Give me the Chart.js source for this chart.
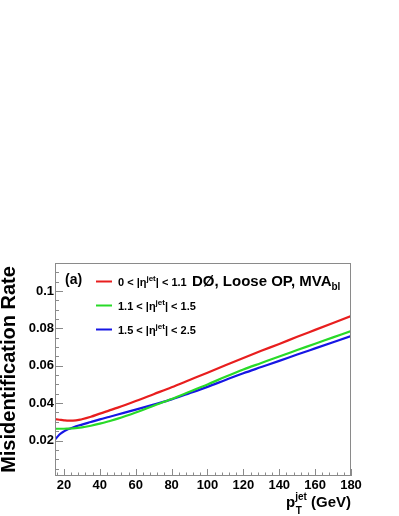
<!DOCTYPE html>
<html>
<head>
<meta charset="utf-8">
<script src="https://cdn.jsdelivr.net/npm/chart.js@4.4.1/dist/chart.umd.min.js"></script>
<style>
  html, body { margin: 0; padding: 0; background: #fff; }
  #wrap { width: 399px; height: 516px; }
</style>
</head>
<body>
<div id="wrap"><canvas id="misidChart" width="399" height="516"></canvas></div>
<script>
const ptValues = [15, 17.5, 20, 22.5, 25, 30, 35, 40, 45, 50, 60, 70, 80, 90, 100, 110, 120, 130, 140, 150, 160, 170, 180];

const rateCentral = [0.0314, 0.0311, 0.0308, 0.0306, 0.0306, 0.0314, 0.0327, 0.0344, 0.0360, 0.0376, 0.0411, 0.0448, 0.0485, 0.0524, 0.0563, 0.0603, 0.0642, 0.0680, 0.0717, 0.0755, 0.0792, 0.0829, 0.0866];
const rateIntermediate = [0.0263, 0.0263, 0.0263, 0.0264, 0.0265, 0.0270, 0.0279, 0.0290, 0.0303, 0.0317, 0.0350, 0.0386, 0.0422, 0.0461, 0.0500, 0.0541, 0.0580, 0.0615, 0.0650, 0.0684, 0.0718, 0.0752, 0.0786];
const rateForward = [0.0204, 0.0232, 0.0249, 0.0261, 0.0270, 0.0285, 0.0299, 0.0313, 0.0326, 0.0339, 0.0365, 0.0392, 0.0420, 0.0453, 0.0487, 0.0524, 0.0560, 0.0593, 0.0626, 0.0660, 0.0693, 0.0726, 0.0759];

const seriesLabels = ["0 < |η^jet| < 1.1", "1.1 < |η^jet| < 1.5", "1.5 < |η^jet| < 2.5"];
const seriesColors = ["rgb(232,30,30)", "rgb(40,218,40)", "rgb(22,22,228)"];

const xTickValues = [20, 40, 60, 80, 100, 120, 140, 160, 180];
const yTickValues = [0.02, 0.04, 0.06, 0.08, 0.1];
const yTickLabels = ["0.02", "0.04", "0.06", "0.08", "0.1"];

const FONT = "'Liberation Sans', Arial, Helvetica, sans-serif";

function toPoints(values) {
    return values.map((v, i) => ({ x: ptValues[i], y: v }));
}

// draw text pieces (normal / sub / superscript) one after another
function drawPieces(ctx, pieces, x, y) {
    let cx = x;
    pieces.forEach(p => {
        ctx.font = "bold " + p.size + "px " + FONT;
        ctx.fillText(p.t, cx, y + (p.dy || 0));
        cx += ctx.measureText(p.t).width;
    });
    return cx;
}

function piecesWidth(ctx, pieces) {
    let w = 0;
    pieces.forEach(p => {
        ctx.font = "bold " + p.size + "px " + FONT;
        w += ctx.measureText(p.t).width;
    });
    return w;
}

function labelPieces(label) {
    const m = label.split(/\^(\w+)/);
    return [
        { t: m[0], size: 11 },
        { t: m[1], size: 8, dy: -5 },
        { t: m[2], size: 11 }
    ];
}

const rootStyle = {
    id: "rootStyle",
    afterDraw(chart) {
        const ctx = chart.ctx;
        const area = chart.chartArea;
        const xs = chart.scales.x;
        const ys = chart.scales.y;

        ctx.save();

        // frame
        ctx.strokeStyle = "#8a8a8a";
        ctx.lineWidth = 1;
        ctx.strokeRect(area.left + 0.5, area.top + 0.5, area.right - area.left - 1, area.bottom - area.top - 1);

        // inside ticks on y
        ctx.beginPath();
        for (let k = 1; k * 0.005 <= ys.max; k++) {
            const y = Math.round(ys.getPixelForValue(k * 0.005)) + 0.5;
            const len = (k % 4 === 0) ? 8 : 4;
            ctx.moveTo(area.left, y);
            ctx.lineTo(area.left + len, y);
        }
        // inside ticks on x
        for (let v = 16; v <= xs.max; v += 4) {
            const x = Math.round(xs.getPixelForValue(v)) + 0.5;
            const len = (v % 20 === 0) ? 7 : 3.5;
            ctx.moveTo(x, area.bottom);
            ctx.lineTo(x, area.bottom - len);
        }
        ctx.stroke();

        // legend
        ctx.fillStyle = "#000";
        ctx.textBaseline = "alphabetic";
        const rowY = [281.5, 305.5, 329.5];
        chart.data.datasets.forEach((ds, i) => {
            ctx.strokeStyle = ds.borderColor;
            ctx.lineWidth = 2;
            ctx.beginPath();
            ctx.moveTo(96, rowY[i]);
            ctx.lineTo(112, rowY[i]);
            ctx.stroke();
            drawPieces(ctx, labelPieces(ds.label), 118, rowY[i] + 4);
        });

        drawPieces(ctx, [{ t: "(a)", size: 14 }], 65, 284);
        drawPieces(ctx, [
            { t: "DØ, Loose OP, MVA", size: 15 },
            { t: "bl", size: 10, dy: 4 }
        ], 192, 286);

        // x axis title
        const xt = [
            { t: "p", size: 15 },
            { t: "jet", size: 10, dy: -7 },
            { t: " (GeV)", size: 15 }
        ];
        const w = piecesWidth(ctx, xt);
        const x0 = area.right - w;
        drawPieces(ctx, [{ t: "p", size: 15 }], x0, 507);
        ctx.font = "bold 10px " + FONT;
        const pw = (() => { ctx.font = "bold 15px " + FONT; return ctx.measureText("p").width; })();
        drawPieces(ctx, [{ t: "T", size: 10 }], x0 + pw + 0.5, 514);
        drawPieces(ctx, [{ t: "jet", size: 10 }], x0 + pw, 500);
        ctx.font = "bold 10px " + FONT;
        const jw = ctx.measureText("jet").width;
        drawPieces(ctx, [{ t: " (GeV)", size: 15 }], x0 + pw + jw, 507);

        ctx.restore();
    }
};

const canvas = document.getElementById("misidChart");

new Chart(canvas, {

    type: "line",

    data: {
        datasets: [
            { label: seriesLabels[0], data: toPoints(rateCentral), borderColor: seriesColors[0] },
            { label: seriesLabels[1], data: toPoints(rateIntermediate), borderColor: seriesColors[1] },
            { label: seriesLabels[2], data: toPoints(rateForward), borderColor: seriesColors[2] }
        ]
    },

    options: {
        responsive: false,
        animation: false,
        devicePixelRatio: 1,
        layout: {
            padding: { top: 263, right: 48, left: 0, bottom: 0 }
        },
        elements: {
            point: { radius: 0 },
            line: { borderWidth: 2.2, cubicInterpolationMode: "monotone", fill: false }
        },
        plugins: {
            legend: { display: false },
            tooltip: { enabled: false }
        },
        scales: {
            x: {
                type: "linear",
                min: 15,
                max: 180,
                grid: { display: false, drawTicks: false },
                border: { display: false },
                afterBuildTicks: s => { s.ticks = xTickValues.map(v => ({ value: v })); },
                afterFit: s => { s.height = 40; },
                ticks: {
                    padding: 2,
                    color: "#000",
                    maxRotation: 0,
                    font: { family: FONT, size: 13, weight: "bold" },
                    callback: v => String(v)
                }
            },
            y: {
                min: 0.001,
                max: 0.115,
                grid: { display: false, drawTicks: false },
                border: { display: false },
                afterBuildTicks: s => { s.ticks = yTickValues.map(v => ({ value: v })); },
                afterFit: s => { s.width = 55; },
                ticks: {
                    padding: 1,
                    color: "#000",
                    font: { family: FONT, size: 13, weight: "bold" },
                    callback: (v) => yTickLabels[yTickValues.findIndex(t => Math.abs(t - v) < 1e-9)]
                },
                title: {
                    display: true,
                    text: "Misidentification Rate",
                    color: "#000",
                    padding: 0,
                    font: { family: FONT, size: 20, weight: "bold", lineHeight: 0.9 }
                }
            }
        }
    },

    plugins: [rootStyle]

});
</script>
</body>
</html>
